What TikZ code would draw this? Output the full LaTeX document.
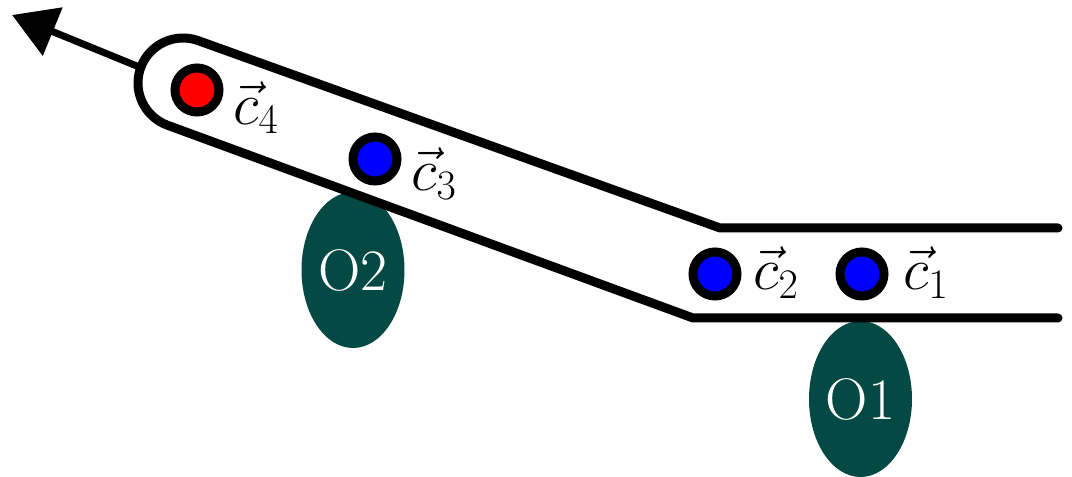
\RequirePackage{fix-cm}
\documentclass[tikz,border=0pt]{standalone}
\usetikzlibrary{arrows.meta,shapes.geometric,calc}
\definecolor{obstcol}{RGB}{4,73,67}
\begin{document}
\begin{tikzpicture}[x=0.75pt,y=0.75pt,
  tube/.style={line width=6.75pt, line cap=round, line join=round},
  dot/.style={circle, draw=black, line width=6.75pt, minimum size=33pt, inner sep=0pt},
  lab/.style={inner sep=0pt, font=\fontsize{45}{54}\selectfont},
  obst/.style={ellipse, fill=obstcol, text=white, minimum width=77.25pt, minimum height=117pt, inner sep=0pt, font=\fontsize{44}{52}\selectfont}]
\useasboundingbox (0,0) rectangle (1072,477);
% obstacles
\node[obst] (O2) at (353,207) {O2};
\node[obst] (O1) at (860.5,78) {O1};
% tube geometry
\coordinate (C) at (183,394);
\coordinate (ubend) at (720,249);
\coordinate (lbend) at (693,159);
\coordinate (uend) at (1058,249);
\coordinate (lend) at (1058,159);
\coordinate (ustart) at ($(C)+(70:45)$);
\coordinate (tubeend) at ($(C)+(160:45)$);
\coordinate (tip) at (12,462);
% arrow
\draw[line width=5.25pt, -{Triangle[length=33pt,width=38pt]}] (tubeend) -- (tip);
% tube
\draw[tube] (uend) -- (ubend) -- (ustart) arc[start angle=70, end angle=250, radius=45] -- (lbend) -- (lend);
% particles
\node[dot, fill=red] (c4) at (197,387) {};
\node[dot, fill=blue] (c3) at (375,318) {};
\node[dot, fill=blue] (c2) at (715,203) {};
\node[dot, fill=blue] (c1) at (862,203) {};
% labels
\node[lab, anchor=base west] (l4) at ($(c4)+(36,-35)$) {$\vec{c}_4$};
\node[lab, anchor=base west] (l3) at ($(c3)+(36,-32)$) {$\vec{c}_3$};
\node[lab, anchor=base west] (l2) at ($(c2)+(38,-16)$) {$\vec{c}_2$};
\node[lab, anchor=base west] (l1) at ($(c1)+(41,-16)$) {$\vec{c}_1$};
\end{tikzpicture}
\end{document}
